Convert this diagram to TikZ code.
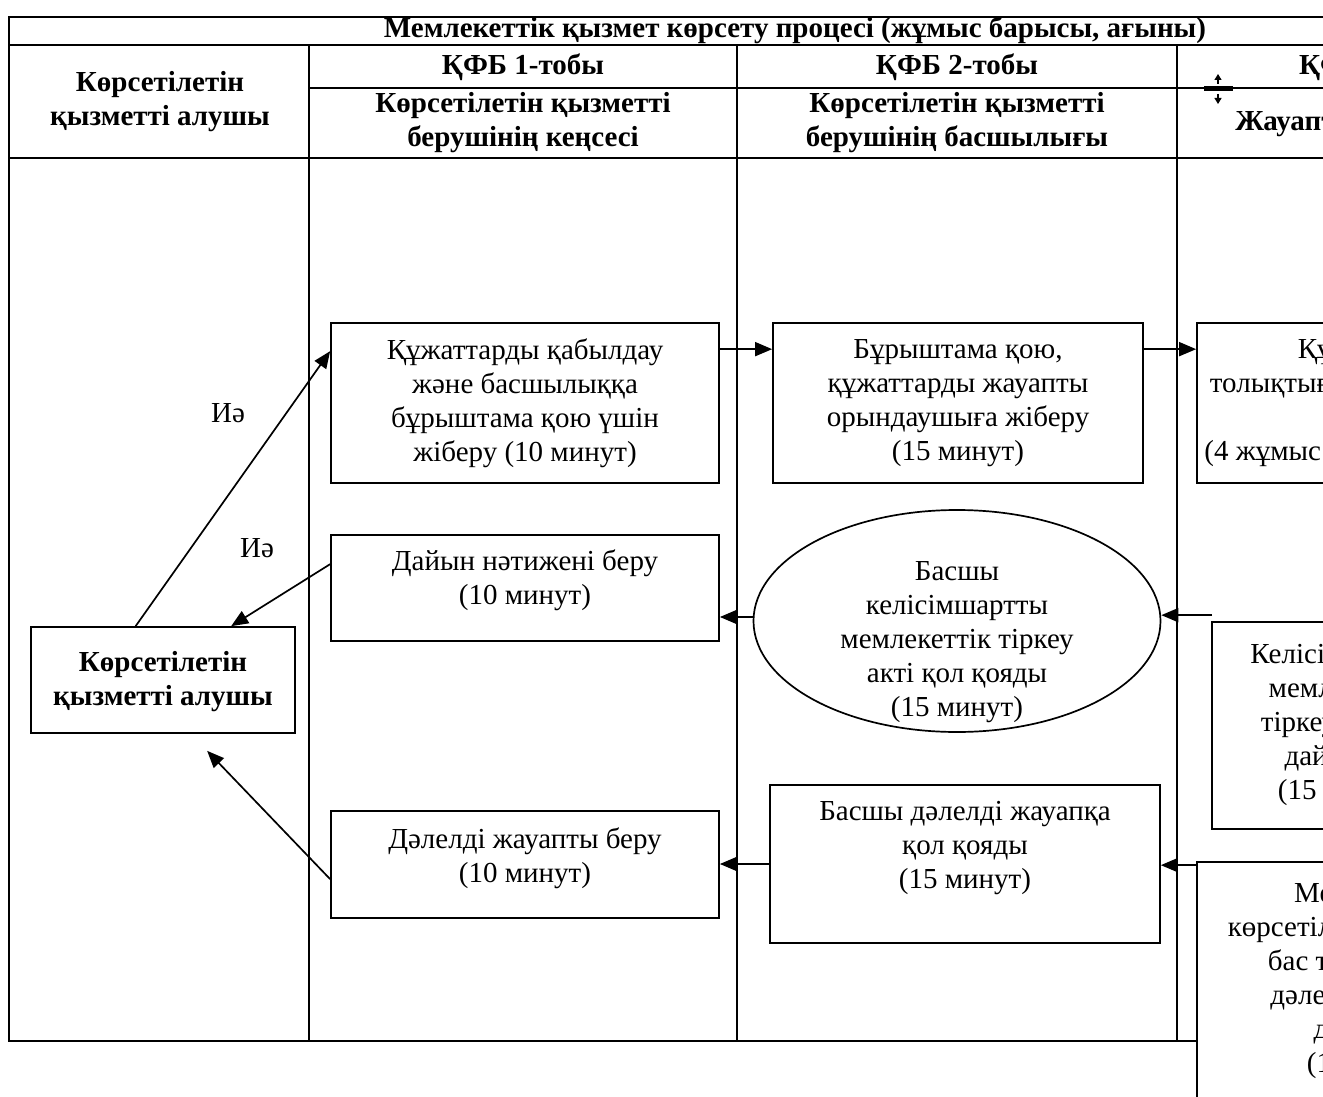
\documentclass[tikz,border=0pt]{standalone}
\usepackage{fontspec}
\setmainfont{Liberation Serif}
\usetikzlibrary{arrows.meta,calc,shapes.geometric}

\tikzset{
  base/.style={font=\fontsize{14.5}{17}\selectfont, inner sep=0pt, align=center},
  bold/.style={base, font=\fontsize{14.5}{17}\selectfont\bfseries},
  box/.style={draw, line width=0.85pt, fill=white, base},
  oval/.style={draw, ellipse, line width=0.85pt, fill=white, inner sep=0pt},
  tbl/.style={line width=0.95pt},
  arr/.style={line width=0.85pt, -{Triangle[length=8.5pt,width=7pt]}},
}

\begin{document}
\begin{tikzpicture}[x=0.5pt,y=-0.5pt]
\useasboundingbox (0,0) rectangle (1323,1097);
\clip (0,0) rectangle (1323,1097);
\fill[white] (0,0) rectangle (1323,1097);

% table grid
\draw[tbl] (2000,17) -- (9,17) -- (9,1041) -- (2000,1041);
\draw[tbl] (9,45) -- (2000,45);
\draw[tbl] (309,88) -- (2000,88);
\draw[tbl] (9,158) -- (2000,158);
\draw[tbl] (309,45) -- (309,1041);
\draw[tbl] (737,45) -- (737,1041);
\draw[tbl] (1177,45) -- (1177,1041);

% row resize handle
\fill (1204,86.5) rectangle (1233,91);
\draw[line width=0.6pt, -{Triangle[length=3pt,width=3.5pt]}] (1218,84) -- (1218,74);
\draw[line width=0.6pt, -{Triangle[length=3pt,width=3.5pt]}] (1218,94) -- (1218,104);

% header
\node[bold] (title) at (795,30) {Мемлекеттік қызмет көрсету процесі (жұмыс барысы, ағыны)};
\node[bold] (h0) at (160,102) {Көрсетілетін\\қызметті алушы};
\node[bold] (h1) at (523,67) {ҚФБ 1-тобы};
\node[bold] (h2) at (957,67) {ҚФБ 2-тобы};
\node[bold] (h3) at (1380,67) {ҚФБ 3-тобы};
\node[bold] (s1) at (523,123) {Көрсетілетін қызметті\\берушінің кеңсесі};
\node[bold] (s2) at (957,123) {Көрсетілетін қызметті\\берушінің басшылығы};
\node[bold] (s3) at (1380,124) {Жауапты орындаушы};

% process boxes
\node[box, minimum width=194pt, minimum height=80pt] (a) at (525,403)
  {Құжаттарды қабылдау\\және басшылыққа\\бұрыштама қою  үшін\\жіберу (10 минут)};
\node[box, minimum width=185pt, minimum height=80pt] (b) at (958,403)
  {Бұрыштама қою,\\құжаттарды жауапты\\орындаушыға  жіберу\\(15 минут)};
\node[box, minimum width=185pt, minimum height=80pt] (c) at (1382,403)
  {Құжаттардың\\толықтығын тексереді және\\қарайды\\(4 жұмыс сағатының ішінде)};

\node[box, minimum width=194pt, minimum height=53pt] (d) at (525,588) {};
\node[base] (dt) at (525,580) {Дайын нәтижені беру\\(10 минут)};

\node[oval, minimum width=203.5pt, minimum height=111pt] (e) at (957,621) {};
\node[base] (et) at (957,642)
  {Басшы\\келісімшартты\\мемлекеттік тіркеу\\акті қол қояды\\(15 минут)};

\node[box, minimum width=132pt, minimum height=103.5pt] (f) at (1344,725.5)
  {Келісімшартты\\мемлекеттік\\тіркеу актісін\\дайындау\\(15 минут)};

\node[box, minimum width=132pt, minimum height=53pt] (g) at (163,680) {};
\node[bold] (gt) at (163,682) {Көрсетілетін\\қызметті алушы};

\node[box, minimum width=195pt, minimum height=79pt] (h) at (965,864) {};
\node[base] (ht) at (965,848) {Басшы дәлелді жауапқа\\қол қояды\\(15 минут)};

\node[box, minimum width=194pt, minimum height=53.5pt] (i) at (525,864.5) {};
\node[base] (it) at (525,858) {Дәлелді жауапты беру\\(10 минут)};

\node[box, minimum width=176pt, minimum height=121.5pt] (j) at (1373,983.5) {};
\node[base] (jt) at (1373,981)
  {Мемлекеттік\\көрсетілетін қызметтен\\бас тарту туралы\\дәлелді жауапты\\дайындау\\(15 минут)};

% connector end points
\coordinate (fin) at ($(f.north west)+(1,-6)$);
\coordinate (jin) at ($(j.north west)+(0,4)$);
\coordinate (gi) at ($(g.south west)+(177,17)$);

% connectors
\draw[arr] ($(g.north west)!0.397!(g.north east)$) -- ($(a.north west)+(0,29)$);
\draw[arr] ($(d.north west)+(0,30)$) -- ($(g.north west)+(201,0)$);
\draw[arr] ($(a.north east)+(0,27)$) -- ($(b.north west)+(0,27)$);
\draw[arr] ($(b.north east)+(0,27)$) -- ($(c.north west)+(0,27)$);
\draw[arr] (fin) -- (fin -| e.east);
\draw[arr] ($(e.west)+(0,-4)$) -- ($(e.west -| d.east)+(0,-4)$);
\draw[arr] (h.west) -- (h.west -| i.east);
\draw[arr] (jin) -- (jin -| h.east);
\draw[arr] ($(i.north west)+(0,69)$) -- (gi);

% branch labels
\node[base] (yes1) at (228,413) {Иә};
\node[base] (yes2) at (257,548) {Иә};
\end{tikzpicture}
\end{document}
